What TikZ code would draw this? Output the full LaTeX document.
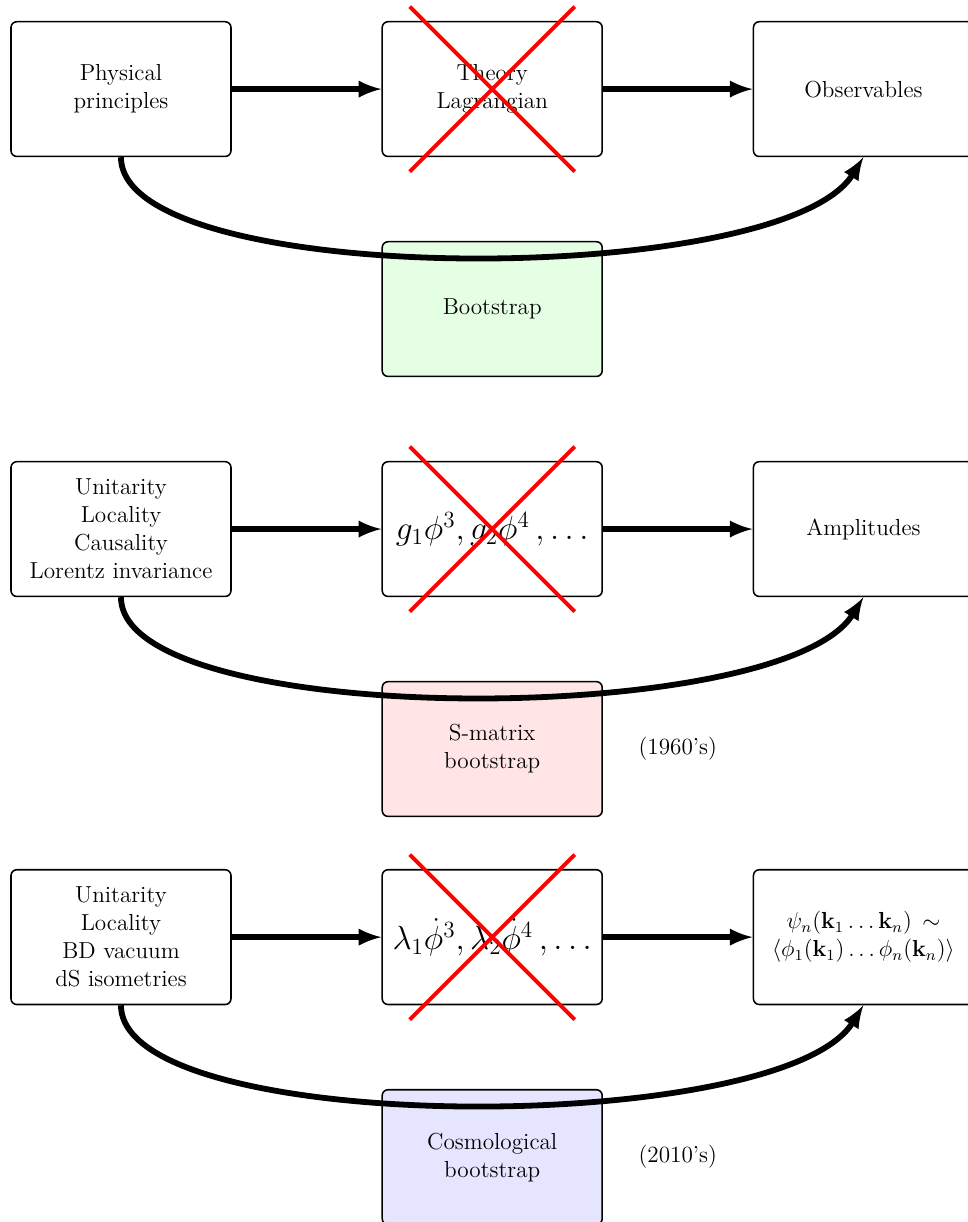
\documentclass[tikz,border=0pt,12pt]{standalone}
\usetikzlibrary{shapes,arrows,positioning}

\begin{document}
\begin{tikzpicture}[>=latex,
    box/.style={draw, rectangle, rounded corners=3pt, thick, minimum width=4cm, minimum height=2.45cm, align=center},
    arr/.style={->, line width=3pt},
    cross/.style={draw=red, line width=2pt}]
    \useasboundingbox (-2.2,1.62) rectangle (15.4,-20.6);
    % first row
    \node[box] (P1) at (0,0) {Physical\\principles};
    \node[box] (T1) at (6.75,0) {Theory\\Lagrangian};
    \node[box] (O1) at (13.5,0) {Observables};
    \node[box, fill=green!10] (B1) at (6.75,-4) {Bootstrap};
    \draw[arr] (P1) -- (T1);
    \draw[arr] (T1) -- (O1);
    \draw[arr] (P1.south) .. controls +(0,-2.4) and +(-1.5,-2.4) .. (O1.south);
    \draw[cross] (T1.center) +(-1.5,1.5) -- +(1.5,-1.5) +(-1.5,-1.5) -- +(1.5,1.5);
    % second row
    \node[box] (P2) at (0,-8) {Unitarity\\Locality\\Causality\\Lorentz invariance};
    \node[box] (T2) at (6.75,-8) {\Large $g_1\phi^3, g_2\phi^4\,, \ldots$};
    \node[box] (O2) at (13.5,-8) {Amplitudes};
    \node[box, fill=red!10] (B2) at (6.75,-12) {S-matrix\\bootstrap};
    \node[right=0.5cm of B2] (D2) {(1960's)};
    \draw[arr] (P2) -- (T2);
    \draw[arr] (T2) -- (O2);
    \draw[arr] (P2.south) .. controls +(0,-2.4) and +(-1.5,-2.4) .. (O2.south);
    \draw[cross] (T2.center) +(-1.5,1.5) -- +(1.5,-1.5) +(-1.5,-1.5) -- +(1.5,1.5);
    % third row
    \node[box] (P3) at (0,-15.42) {Unitarity\\Locality\\BD vacuum\\dS isometries};
    \node[box] (T3) at (6.75,-15.42) {\Large $\lambda_1\dot\phi^3, \lambda_2\dot\phi^4\,, \ldots$};
    \node[box] (O3) at (13.5,-15.42) {$\psi_n(\mathbf{k}_1\ldots\mathbf{k}_n)\,\sim$\\$\langle\phi_1(\mathbf{k}_1)\ldots\phi_n(\mathbf{k}_n)\rangle$};
    \node[box, fill=blue!10] (B3) at (6.75,-19.42) {Cosmological\\bootstrap};
    \node[right=0.5cm of B3] (D3) {(2010's)};
    \draw[arr] (P3) -- (T3);
    \draw[arr] (T3) -- (O3);
    \draw[arr] (P3.south) .. controls +(0,-2.4) and +(-1.5,-2.4) .. (O3.south);
    \draw[cross] (T3.center) +(-1.5,1.5) -- +(1.5,-1.5) +(-1.5,-1.5) -- +(1.5,1.5);
\end{tikzpicture}
\end{document}
